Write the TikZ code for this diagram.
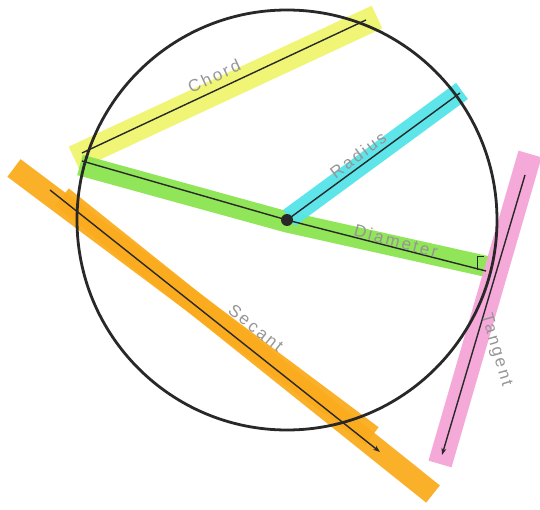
\documentclass[tikz,border=0pt]{standalone}
\usepackage{fontspec}
\setmainfont{Liberation Sans}
\newfontfamily\lblfont[LetterSpace=14]{Liberation Sans}
\usetikzlibrary{arrows.meta}
\definecolor{hlyellow}{RGB}{240,245,110}
\definecolor{hlgreen}{RGB}{140,228,80}
\definecolor{hlcyan}{RGB}{85,228,232}
\definecolor{hlorange}{RGB}{250,172,30}
\definecolor{hlpink}{RGB}{245,165,215}
\definecolor{pencil}{RGB}{40,40,40}
\definecolor{lblgray}{RGB}{150,150,150}
\tikzset{
  band/.style={line width=23pt, line cap=butt, opacity=0.95},
  pline/.style={draw=pencil, line width=1.4pt},
  lbl/.style={text=lblgray, font=\lblfont\fontsize{17}{19}\selectfont, inner sep=1pt},
  tip/.style={-{Stealth[length=7pt,width=5pt]}}
}
\begin{document}
\begin{tikzpicture}[x=1pt,y=-1pt]
\useasboundingbox (0,0) rectangle (540,510);
\fill[white] (0,0) rectangle (540,510);
% named points
\coordinate (O) at (287,220);
\coordinate (chA) at (82,153);
\coordinate (chB) at (366,20);
\coordinate (diA) at (82,161);
\coordinate (diB) at (486,271);
\coordinate (raB) at (460,93);
\coordinate (seA) at (50,190);
\coordinate (seB) at (380,452);
\coordinate (taA) at (525,175);
\coordinate (taB) at (442,455);
% highlights
\draw[band, hlyellow, line width=25pt] (74,158) -- (377,17);
\draw[band, hlgreen, line width=21pt] (80,165) -- (287,222) -- (489,267);
\draw[band, hlcyan, line width=20pt] (289,218) -- (462,91);
\draw[band, hlorange, line width=22pt] (14,168) -- (372,436);
\draw[band, hlorange, line width=22pt] (62,197) -- (433,494);
\draw[band, hlpink, line width=24pt] (530,154) -- (440,464);
% circle
\node[draw=pencil, circle, line width=2.8pt, minimum size=420pt, inner sep=0pt] (circ) at (O) {};
% lines
\draw[pline] (chA) -- (chB);
\draw[pline] (diA) -- (O) -- (diB);
\draw[pline] (O) -- (raB);
\draw[pline, tip] (seA) -- (seB);
\draw[pline, tip] (taA) -- (taB);
\draw[pline, line width=0.8pt] (477,270) -- (477,256) -- (484,256);
\fill[pencil] (O) circle (6pt);
% labels
\node[lbl, rotate=25] (lchord) at (214,76) {Chord};
\node[lbl, rotate=36.5] (lradius) at (358,155) {Radius};
\node[lbl, rotate=-15] (ldiam) at (396,241) {Diameter};
\node[lbl, rotate=-38.7] (lsec) at (256,328) {Secant};
\node[lbl, rotate=-73.5] (ltan) at (496,350) {Tangent};
\end{tikzpicture}
\end{document}
